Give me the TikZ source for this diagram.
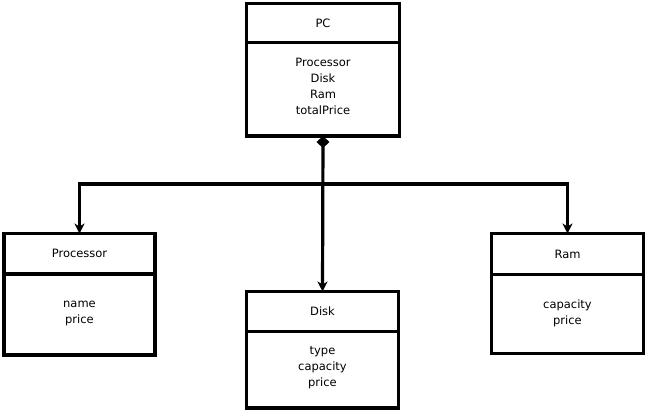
\documentclass[tikz,border=0pt]{standalone}
\usepackage{fontspec}
\setmainfont{DejaVu Sans}
\usetikzlibrary{arrows.meta,positioning}

\begin{document}
\begin{tikzpicture}[
    x=1pt, y=-1pt,
    font=\fontsize{11.5}{16}\selectfont,
    class title/.style={draw,line width=3.4pt,minimum width=152pt,minimum height=40pt,inner sep=0pt,outer sep=0pt,anchor=north},
    class body/.style={draw,line width=3.4pt,minimum width=152pt,inner sep=0pt,outer sep=0pt,anchor=north},
    attr list/.style={draw=none,align=center,inner sep=0pt},
    link/.style={draw,line width=3.2pt},
    uses/.style={link,-{Stealth[length=10pt,width=10pt,inset=3pt]}},
    owns/.style={uses,{Diamond[length=12pt,width=13pt]}-{Stealth[length=10pt,width=10pt,inset=3pt]}}
  ]
    \useasboundingbox (0,0) rectangle (648,416);

    % PC class
    \node[class title, minimum width=153pt, minimum height=39pt] (PC) at (323,3.5) {PC};
    \node[class body, minimum width=153pt, minimum height=93.5pt] (PCB) at (PC.south) {};
    \node[attr list] (PCA) at ([yshift=3pt]PCB.center) {Processor\\Disk\\Ram\\totalPrice};

    % Processor class
    \node[class title, minimum width=151pt, minimum height=40.5pt] (Proc) at (79.5,233.5) {Processor};
    \node[class body, minimum width=151pt, minimum height=81pt] (ProcB) at (Proc.south) {};
    \node[attr list] (ProcA) at ([yshift=1pt]ProcB.center) {name\\price};

    % Disk class
    \node[class title, minimum height=40pt] (Disk) at (322.5,291.5) {Disk};
    \node[class body, minimum height=76.5pt] (DiskB) at (Disk.south) {};
    \node[attr list] (DiskA) at ([yshift=2pt]DiskB.center) {type\\capacity\\price};

    % Ram class
    \node[class title, minimum height=41pt] (Ram) at (567.5,233.5) {Ram};
    \node[class body, minimum height=79pt] (RamB) at (Ram.south) {};
    \node[attr list] (RamA) at ([yshift=1pt]RamB.center) {capacity\\price};

    % Composition links
    \coordinate[below=48pt of PCB.south] (split);
    \path[owns] (PCB.south) -- (Disk.north);
    \path[uses] (split) -| (Proc.north);
    \path[uses] (split) -| (Ram.north);

  \end{tikzpicture}
\end{document}
